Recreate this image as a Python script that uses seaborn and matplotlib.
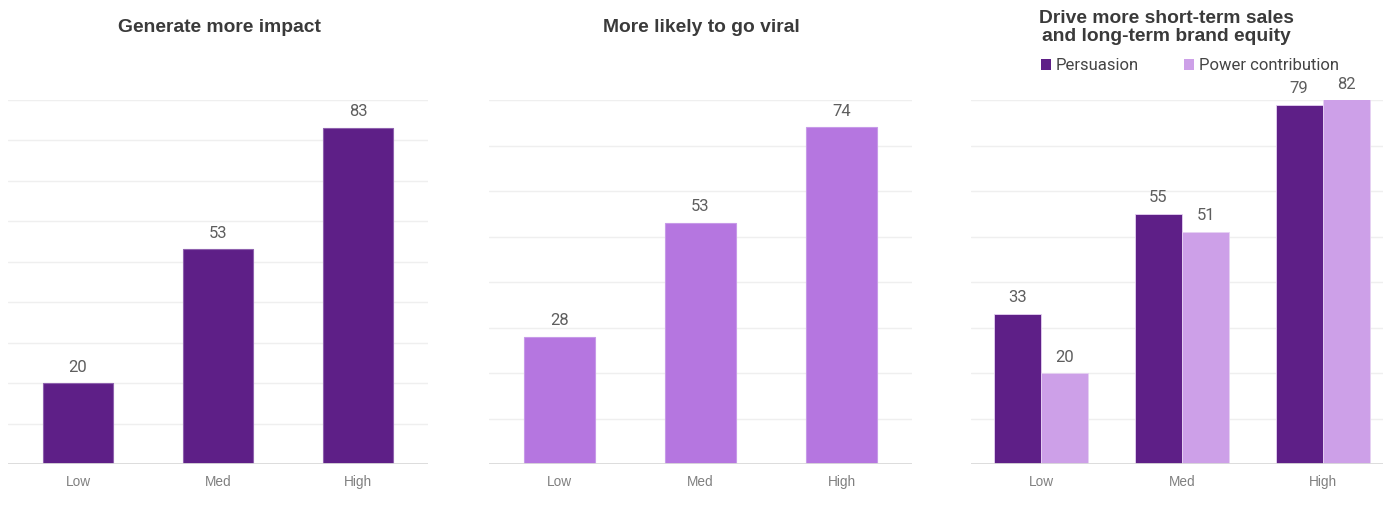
import numpy as np
import pandas as pd
import matplotlib
matplotlib.use("Agg")
import matplotlib.pyplot as plt
from matplotlib.patches import Patch
import seaborn as sns

# --- data -------------------------------------------------------------
levels = ["Low", "Med", "High"]
impact = [20, 53, 83]
viral = [28, 53, 74]
persuasion = [33, 55, 79]
power_contribution = [20, 51, 82]
series_names = ["Persuasion", "Power contribution"]

titles = [
    "Generate more impact",
    "More likely to go viral",
    "Drive more short-term sales\nand long-term brand equity",
]

# --- style ------------------------------------------------------------
DARK = "#5E1F87"
MID = "#B576E0"
LIGHT = "#CDA0E8"
TITLE_COL = "#3A3A3A"
VALUE_COL = "#5E5E5E"
TICK_COL = "#808080"
GRID_COL = "#EFEFEF"
BASE_COL = "#DADADA"

sns.set_theme(style="white")
plt.rcParams["font.family"] = ["Liberation Sans", "DejaVu Sans"]

W, H = 1383, 520
fig = plt.figure(figsize=(W / 100, H / 100), dpi=100)


def px_axes(left, right, top, bottom):
    return fig.add_axes([left / W, 1 - bottom / H, (right - left) / W, (bottom - top) / H])


def style_axes(ax, ymax):
    ax.set_ylim(0, ymax)
    ax.set_xlim(-0.5, 2.5)
    ax.set_yticks(np.arange(0, ymax + 1, 10))
    ax.yaxis.grid(True, color=GRID_COL, linewidth=1.0)
    ax.set_axisbelow(True)
    for s in ax.spines.values():
        s.set_visible(False)
    ax.axhline(0, color=BASE_COL, linewidth=1.3, zorder=1)
    ax.tick_params(axis="y", length=0, labelleft=False)
    ax.tick_params(axis="x", length=0, pad=8, labelsize=9.8, labelcolor=TICK_COL)
    ax.set_xlabel("")
    ax.set_ylabel("")


def label_bars(ax, patches, values, ymax):
    for p, v in zip(patches, values):
        x = p.get_x() + p.get_width() / 2
        y = min(v, ymax)
        ax.annotate(f"{v}", (x, y), xytext=(0, 11.5), textcoords="offset points",
                    ha="center", va="center", fontsize=12, color=VALUE_COL,
                    family=["Roboto", "DejaVu Sans"], annotation_clip=False)


# --- panel 1 ----------------------------------------------------------
ax1 = px_axes(8, 428, 99.5, 464)
sns.barplot(x=levels, y=impact, color=DARK, saturation=1, width=0.5,
            edgecolor="#8F62AE", linewidth=0.8, ax=ax1)
style_axes(ax1, 90)
label_bars(ax1, ax1.patches, impact, 90)

# --- panel 2 ----------------------------------------------------------
ax2 = px_axes(489, 912, 100, 464)
sns.barplot(x=levels, y=viral, color=MID, saturation=1, width=0.5,
            edgecolor="#C79AE8", linewidth=0.8, ax=ax2)
style_axes(ax2, 80)
label_bars(ax2, ax2.patches, viral, 80)

# --- panel 3 ----------------------------------------------------------
df = pd.DataFrame({
    "level": levels * 2,
    "value": persuasion + power_contribution,
    "series": [series_names[0]] * 3 + [series_names[1]] * 3,
})
ax3 = px_axes(971, 1393, 100, 464)
sns.barplot(data=df, x="level", y="value", hue="series", order=levels,
            hue_order=series_names, palette=[DARK, LIGHT], saturation=1,
            width=0.67, edgecolor="#E6D2F2", linewidth=0.6, legend=False, ax=ax3)
style_axes(ax3, 80)
for cont, vals in zip(ax3.containers, [persuasion, power_contribution]):
    label_bars(ax3, cont.patches, vals, 80)

handles = [Patch(facecolor=DARK, edgecolor="none"), Patch(facecolor=LIGHT, edgecolor="none")]
ax3.legend(handles, series_names, loc="center left", ncol=2,
           bbox_to_anchor=(1041 / W, 1 - 66 / H), bbox_transform=fig.transFigure,
           frameon=False, handlelength=0.6, handleheight=0.6, handletextpad=0.3,
           columnspacing=2.7, borderpad=0, borderaxespad=0,
           prop={"family": ["Roboto", "DejaVu Sans"], "size": 12})
for t in ax3.get_legend().get_texts():
    t.set_color("#444444")

# --- titles -----------------------------------------------------------
title_kw = dict(ha="center", va="center", fontsize=13.9, fontweight="bold", color=TITLE_COL)
fig.text(219 / W, 1 - 27 / H, titles[0], **title_kw)
fig.text(701 / W, 1 - 27 / H, titles[1], **title_kw)
fig.text(1166 / W, 1 - 27.5 / H, titles[2], linespacing=1.15, **title_kw)

fig.savefig("out.png", dpi=100, facecolor="white")
